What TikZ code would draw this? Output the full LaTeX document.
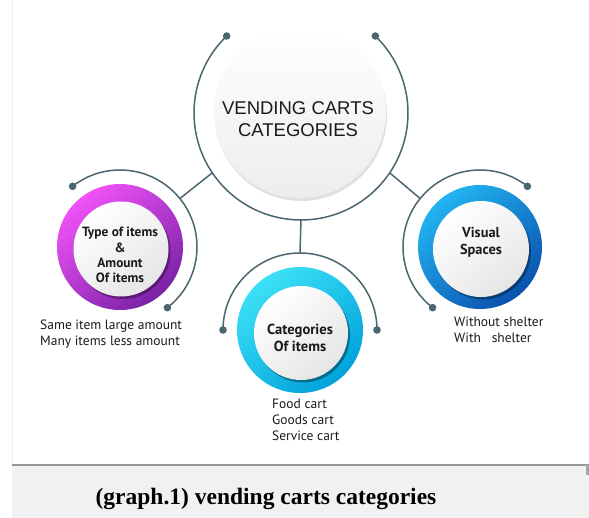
\documentclass[tikz,border=0pt]{standalone}
\usepackage{fontspec}
\setmainfont{Liberation Serif}
\newfontfamily\titlefont{Liberation Sans}
\newfontfamily\labelfont{PT Sans}
\usetikzlibrary{shadows}
\definecolor{linec}{HTML}{4A6670}
\definecolor{magA}{HTML}{F052F8}
\definecolor{magB}{HTML}{7A22A6}
\definecolor{cyaA}{HTML}{3CE0F6}
\definecolor{cyaB}{HTML}{00A2DA}
\definecolor{bluA}{HTML}{22B4F2}
\definecolor{bluB}{HTML}{0A52AE}
\definecolor{txt}{HTML}{1A1A1A}
\definecolor{capbg}{HTML}{F1F1F1}
\tikzset{
  arcline/.style={draw=linec, line width=1.5pt},
  enddot/.style={fill=linec},
  whitedisc/.style={circle, inner sep=0pt, top color=white, bottom color=black!10, shading angle=40,
     drop shadow={shadow xshift=2pt, shadow yshift=-2.5pt, opacity=0.35, fill=black}},
  centerdisc/.style={circle, inner sep=0pt, top color=white, bottom color=black!7,
     drop shadow={shadow xshift=1pt, shadow yshift=-3pt, opacity=0.12, fill=black}},
  lbl/.style={font=\labelfont\bfseries\fontsize{13.4}{15.3}\selectfont, text=txt, align=center, inner sep=0pt},
  desc/.style={font=\labelfont\fontsize{13.5}{16}\selectfont, text=txt, align=left, inner sep=0pt},
}
\begin{document}
\begin{tikzpicture}[x=1pt,y=1pt]
\useasboundingbox (0,0) rectangle (589,518);
\fill[white] (0,0) rectangle (589,518);
% frame and caption
\draw[black!8, line width=0.8pt] (12.5,53) -- (12.5,518);
\fill[capbg] (12,0) rectangle (589,53);
\draw[black!40, line width=1.2pt] (12,53) -- (589,53);
\fill[black!35] (586,43) rectangle (589,53);
\node[font=\bfseries\fontsize{23.5}{26}\selectfont, text=black, inner sep=0pt] (cap) at (266,19) {(graph.1) vending carts categories};

% centres
\coordinate (C) at (301,405);
\coordinate (L) at (120,271);
\coordinate (M) at (300,188);
\coordinate (R) at (480,271);

% arc end points and junctions
\path (C) ++(134:107) coordinate (c1) (C) ++(46:107) coordinate (c2)
      (C) ++(214:107) coordinate (cl) (C) ++(270:107) coordinate (cm) (C) ++(326:107) coordinate (cr);
\path (L) ++(128:77) coordinate (l1) (L) ++(-52:77) coordinate (l2) (L) ++(39:77) coordinate (lj);
\path (M) ++(180:77) coordinate (m1) (M) ++(0:77) coordinate (m2) (M) ++(90:77) coordinate (mj);
\path (R) ++(52:77) coordinate (r1) (R) ++(232:77) coordinate (r2) (R) ++(141:77) coordinate (rj);

% arcs
\draw[arcline] (c1) arc[start angle=134, end angle=406, radius=107];
\draw[arcline] (l1) arc[start angle=128, end angle=-52, radius=77];
\draw[arcline] (m1) arc[start angle=180, end angle=0, radius=77];
\draw[arcline] (r1) arc[start angle=52, end angle=232, radius=77];
% connectors
\draw[arcline] (cl) -- (lj);
\draw[arcline] (cm) -- (mj);
\draw[arcline] (cr) -- (rj);
% dots
\foreach \p in {c1,c2,l1,l2,m1,m2,r1,r2}{\fill[enddot] (\p) circle[radius=3.8];}

% rings
\shade[top color=magA, bottom color=magB, shading angle=40] (L) circle[radius=63];
\shade[top color=cyaA, bottom color=cyaB, shading angle=40] (M) circle[radius=63];
\shade[top color=bluA, bottom color=bluB, shading angle=40] (R) circle[radius=62];

% discs
\node[centerdisc, minimum size=172pt] (cd) at (300,406) {};
\node[whitedisc, minimum size=95pt] (ld) at (121,269) {};
\node[whitedisc, minimum size=94pt] (md) at (301,185) {};
\node[whitedisc, minimum size=96pt] (rd) at (481,269) {};

% texts
\node[font=\titlefont\fontsize{18.5}{22}\selectfont, text=txt, align=center, inner sep=0pt] (title) at (298,399) {VENDING CARTS\\CATEGORIES};
\node[lbl] (lt) at (120,263) {Type of items\\\&\\Amount\\Of items};
\node[lbl, font=\labelfont\bfseries\fontsize{14.6}{17}\selectfont] (mt) at (300,180) {Categories\\Of items};
\node[lbl, font=\labelfont\bfseries\fontsize{14.4}{17}\selectfont] (rt) at (481,275.5) {Visual\\Spaces};

\node[desc, anchor=west] (ldesc) at (40,184) {Same item large amount\\Many items less amount};
\node[desc, anchor=west] (mdesc) at (272,98) {Food cart\\Goods cart\\Service cart};
\node[desc, anchor=west] (rdesc) at (454,188) {Without shelter\\With\ \ \ shelter};
\end{tikzpicture}
\end{document}
